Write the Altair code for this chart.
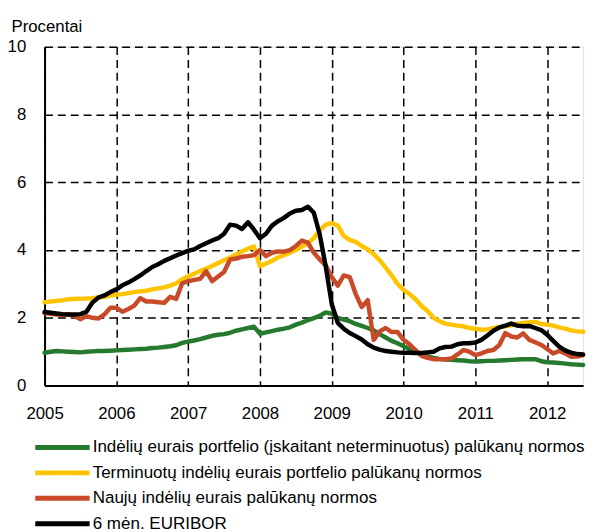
import altair as alt
import pandas as pd

series_names = [
    "Indėlių eurais portfelio (įskaitant neterminuotus) palūkanų normos",
    "Terminuotų indėlių eurais portfelio palūkanų normos",
    "Naujų indėlių eurais palūkanų normos",
    "6 mėn. EURIBOR",
]
colors = ["#267a2e", "#ffc400", "#c84a28", "#000000"]

start_year = 2005
x_ticks = [2005, 2006, 2007, 2008, 2009, 2010, 2011, 2012]
y_ticks = [0, 2, 4, 6, 8, 10]

green = [0.97, 1.00, 1.02, 1.01, 1.00, 0.99, 0.98, 1.00, 1.01, 1.02, 1.02, 1.03,
         1.04, 1.05, 1.06, 1.07, 1.08, 1.09, 1.11, 1.12, 1.14, 1.16, 1.19, 1.26,
         1.30, 1.33, 1.37, 1.42, 1.47, 1.50, 1.52, 1.56, 1.62, 1.66, 1.70, 1.74,
         1.53, 1.57, 1.61, 1.65, 1.68, 1.72, 1.80, 1.86, 1.93, 1.99, 2.06, 2.16,
         2.12, 2.00, 1.95, 1.90, 1.82, 1.76, 1.70, 1.63, 1.52, 1.42, 1.32, 1.25,
         1.16, 1.08, 1.00, 0.92, 0.86, 0.82, 0.79, 0.77, 0.76, 0.75, 0.74, 0.72,
         0.71, 0.72, 0.73, 0.73, 0.74, 0.75, 0.76, 0.77, 0.78, 0.78, 0.78, 0.72,
         0.69, 0.68, 0.67, 0.65, 0.63, 0.62, 0.61]

yellow = [2.46, 2.48, 2.50, 2.52, 2.55, 2.56, 2.56, 2.57, 2.58, 2.60, 2.62, 2.66,
          2.68, 2.70, 2.73, 2.76, 2.78, 2.80, 2.84, 2.87, 2.90, 2.95, 3.02, 3.14,
          3.22, 3.30, 3.38, 3.45, 3.53, 3.62, 3.70, 3.78, 3.86, 3.96, 4.04, 4.10,
          3.52, 3.60, 3.68, 3.78, 3.85, 3.92, 4.00, 4.10, 4.20, 4.35, 4.58, 4.75,
          4.80, 4.72, 4.42, 4.30, 4.24, 4.12, 4.02, 3.88, 3.70, 3.48, 3.25, 3.00,
          2.82, 2.70, 2.55, 2.35, 2.20, 2.00, 1.90, 1.83, 1.80, 1.77, 1.75, 1.70,
          1.68, 1.65, 1.66, 1.70, 1.72, 1.75, 1.78, 1.82, 1.85, 1.87, 1.88, 1.82,
          1.80, 1.77, 1.72, 1.68, 1.63, 1.60, 1.59]

red = [2.14, 2.12, 2.10, 2.09, 2.10, 2.05, 1.96, 2.05, 2.00, 1.98, 2.10, 2.30,
       2.30, 2.18, 2.26, 2.36, 2.58, 2.48, 2.48, 2.46, 2.44, 2.62, 2.56, 3.02,
       3.08, 3.12, 3.15, 3.38, 3.08, 3.22, 3.35, 3.72, 3.75, 3.80, 3.82, 3.85,
       4.00, 3.82, 3.92, 3.96, 3.95, 4.00, 4.12, 4.28, 4.22, 3.92, 3.72, 3.55,
       3.20, 2.95, 3.25, 3.20, 2.70, 2.32, 2.52, 1.35, 1.60, 1.70, 1.58, 1.58,
       1.35, 1.22, 1.05, 0.88, 0.82, 0.78, 0.78, 0.78, 0.80, 0.92, 1.05, 1.00,
       0.90, 0.95, 1.02, 1.05, 1.20, 1.55, 1.45, 1.42, 1.54, 1.35, 1.28, 1.20,
       1.08, 0.95, 1.02, 0.95, 0.85, 0.86, 0.90]

black = [2.17, 2.15, 2.13, 2.11, 2.10, 2.10, 2.11, 2.18, 2.45, 2.60, 2.66, 2.76,
         2.84, 2.96, 3.04, 3.14, 3.25, 3.38, 3.50, 3.58, 3.68, 3.76, 3.84, 3.91,
         3.98, 4.02, 4.12, 4.20, 4.28, 4.35, 4.48, 4.75, 4.72, 4.62, 4.82, 4.60,
         4.35, 4.48, 4.72, 4.85, 4.95, 5.08, 5.16, 5.18, 5.28, 5.10, 4.45, 3.50,
         2.40, 1.85, 1.68, 1.55, 1.46, 1.36, 1.22, 1.12, 1.06, 1.02, 1.00, 0.98,
         0.97, 0.97, 0.96, 0.96, 0.98, 1.00, 1.10, 1.14, 1.15, 1.22, 1.25, 1.25,
         1.27, 1.35, 1.48, 1.62, 1.72, 1.77, 1.83, 1.77, 1.75, 1.76, 1.70, 1.64,
         1.50, 1.32, 1.15, 1.04, 0.97, 0.93, 0.92]

rows = []
for name, vals in zip(series_names, [green, yellow, red, black]):
    for i, v in enumerate(vals):
        rows.append({"t": start_year + i / 12.0, "v": v, "s": name})
df = pd.DataFrame(rows)

FONT = "Liberation Sans"

chart = (
    alt.Chart(df)
    .mark_line(strokeWidth=4.5, strokeJoin="round", strokeCap="round")
    .encode(
        x=alt.X(
            "t:Q",
            scale=alt.Scale(domain=[2005, 2012.5], nice=False, zero=False),
            axis=alt.Axis(
                values=x_ticks, format="d", title=None, labelFontSize=17,
                labelColor="black", labelFont=FONT, labelPadding=20,
                labelFlush=False, ticks=False, grid=True, gridColor="black",
                gridDash=[8, 5], gridWidth=1.5, gridOpacity=1,
                domainColor="black", domainWidth=2,
            ),
        ),
        y=alt.Y(
            "v:Q",
            scale=alt.Scale(domain=[0, 10], nice=False),
            axis=alt.Axis(
                values=y_ticks, title="Procentai", titleAngle=0,
                titleAlign="left", titleBaseline="alphabetic",
                titleX=-34, titleY=-15, titleFontSize=17,
                titleFontWeight="normal", titleFont=FONT, titleColor="black",
                labelFontSize=17, labelColor="black", labelFont=FONT,
                labelPadding=19, ticks=False, grid=True, gridColor="black",
                gridDash=[8, 5], gridWidth=1.5, gridOpacity=1,
                domainColor="black", domainWidth=2,
            ),
        ),
        color=alt.Color(
            "s:N",
            scale=alt.Scale(domain=series_names, range=colors),
            legend=alt.Legend(
                title=None, orient="none", legendX=31.5, legendY=397,
                direction="vertical", symbolType="M-9,0H1",
                symbolSize=121, symbolStrokeWidth=5, labelFontSize=17.2,
                labelFont=FONT, labelColor="black", labelOffset=0,
                rowPadding=4.7, padding=0, labelLimit=600,
            ),
        ),
    )
    .properties(
        width=545, height=343,
        autosize=alt.AutoSizeParams(type="none"),
        padding={"left": 37, "top": 36, "right": 10, "bottom": 145},
    )
    .configure_view(fill="#e1e5e1", stroke="#222222", strokeWidth=1.5)
    .configure(font=FONT)
)

chart.save("out.html", embed_options={"renderer": "svg", "actions": False})
